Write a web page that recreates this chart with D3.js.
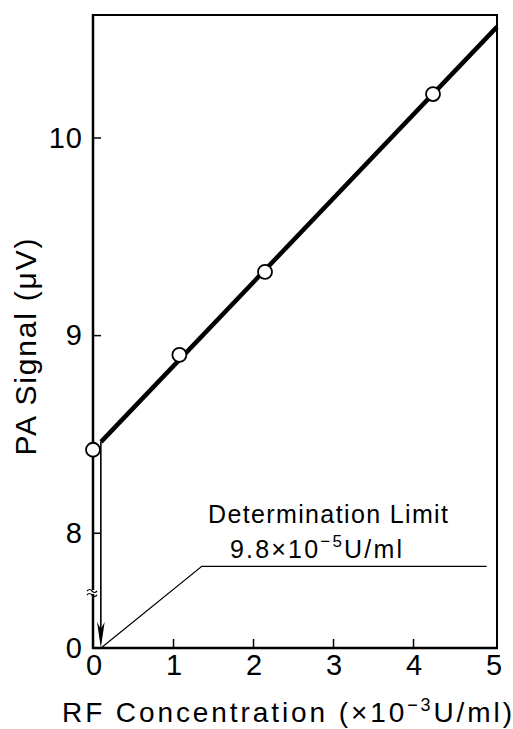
<!DOCTYPE html>
<html><head><meta charset="utf-8">
<script src="https://cdn.jsdelivr.net/npm/d3@7"></script>
<style>
  body { margin: 0; background: #fff; }
  svg { display: block; }
  text { font-family: "Liberation Sans", Arial, Helvetica, sans-serif; fill: #000; }
</style>
</head><body>
<svg id="chart" width="513" height="729"></svg>
<script>
// Measured photoacoustic signal vs. RF concentration (×10^-3 U/ml)
const concentration = [0, 1.08, 2.15, 4.25];
const signal = [8.42, 8.90, 9.32, 10.22];

// Calibration line, drawn from the determination limit to the right edge
const fitLine = [[0.1, 8.46], [5.05, 10.56]];
const detLimit = 0.098;                 // ×10^-3 U/ml
const leaderLine = [[0.1, 0], [1.36, 7.83], [4.92, 7.83]];

const xTicks = [0, 1, 2, 3, 4, 5];
const yTicks = [8, 9, 10];
const yBaseTick = [0];

const svg = d3.select("#chart");

// x: 0..5.05 ; y: broken axis, 0 at the bottom, 7.7..10.62 above the break
const x = d3.scaleLinear().domain([0, 5.05]).range([93, 497]);
const y = d3.scaleLinear().domain([0, 7.7, 10.62]).range([648, 592, 15]);

const X0 = x.range()[0], X1 = x.range()[1];
const Ybot = y(0), Ytop = y(10.62), Ybreak = y(7.7);

// frame: top and right edges
svg.append("path")
  .attr("d", `M${X0},${Ytop}H${X1}V${Ybot}`)
  .attr("fill", "none").attr("stroke", "#000").attr("stroke-width", 2);

// bottom axis
svg.append("line")
  .attr("x1", X0 - 1).attr("x2", X1 + 1).attr("y1", Ybot).attr("y2", Ybot)
  .attr("stroke", "#000").attr("stroke-width", 2.5);

// left axis
svg.append("line")
  .attr("x1", X0).attr("x2", X0).attr("y1", Ytop - 1).attr("y2", Ybot + 1)
  .attr("stroke", "#000").attr("stroke-width", 2.5);

// axis break marks
svg.append("rect").attr("x", X0 - 3).attr("y", Ybreak - 2).attr("width", 6).attr("height", 4).attr("fill", "#fff");
[-2, 2].forEach(dy => {
  const yy = Ybreak + dy;
  svg.append("path")
    .attr("d", `M${X0 - 6},${yy + 1} q2.5,-3 5,0 t5,0`)
    .attr("fill", "none").attr("stroke", "#000").attr("stroke-width", 1.2);
});

// y ticks (inward) and labels
const yAxis = d3.axisRight(y).tickValues(yTicks).tickSize(8).tickFormat("");
svg.append("g").attr("transform", `translate(${X0},0)`).call(yAxis)
  .call(g => g.select(".domain").remove())
  .call(g => g.selectAll("line").attr("stroke", "#000").attr("stroke-width", 1.5));

svg.selectAll(".ylab").data(yTicks.concat(yBaseTick)).join("text")
  .attr("class", "ylab")
  .attr("x", 83).attr("y", d => y(d) + 10)
  .attr("text-anchor", "end")
  .attr("font-size", 29).attr("letter-spacing", 1)
  .text(d => d);

// x ticks (inward, upward) and labels
const xAxis = d3.axisTop(x).tickValues(xTicks.filter(d => d > 0 && d < 5)).tickSize(9).tickFormat("");
svg.append("g").attr("transform", `translate(0,${Ybot})`).call(xAxis)
  .call(g => g.select(".domain").remove())
  .call(g => g.selectAll("line").attr("stroke", "#000").attr("stroke-width", 1.5));

svg.selectAll(".xlab").data(xTicks).join("text")
  .attr("class", "xlab")
  .attr("x", d => x(d) + 1).attr("y", 675)
  .attr("text-anchor", "middle")
  .attr("font-size", 29)
  .text(d => d);

// leader line from the arrow tip to the annotation
const line = d3.line().x(d => x(d[0])).y(d => y(d[1]));
svg.append("path").attr("d", line(leaderLine))
  .attr("fill", "none").attr("stroke", "#000").attr("stroke-width", 1.2);

// determination-limit arrow
const ax = x(detLimit);
svg.append("line")
  .attr("x1", ax).attr("x2", ax).attr("y1", y(fitLine[0][1])).attr("y2", Ybot - 10)
  .attr("stroke", "#000").attr("stroke-width", 1.6);
svg.append("path")
  .attr("d", `M${ax},${Ybot} L${ax - 3.8},${Ybot - 26} L${ax},${Ybot - 19} L${ax + 3.8},${Ybot - 26} Z`)
  .attr("fill", "#000");

// calibration line
svg.append("path").attr("d", line(fitLine))
  .attr("fill", "none").attr("stroke", "#000").attr("stroke-width", 4.5);

// measured points
svg.selectAll(".pt").data(concentration.map((c, i) => [c, signal[i]])).join("circle")
  .attr("class", "pt")
  .attr("cx", d => x(d[0])).attr("cy", d => y(d[1]))
  .attr("r", 7)
  .attr("fill", "#fff").attr("stroke", "#000").attr("stroke-width", 1.8);

// annotation
svg.append("text").attr("x", 208).attr("y", 523)
  .attr("font-size", 25).attr("textLength", 240).attr("lengthAdjust", "spacing")
  .text("Determination Limit");
const ann = svg.append("text").attr("x", 230).attr("y", 558)
  .attr("font-size", 25).attr("textLength", 172).attr("lengthAdjust", "spacing");
ann.append("tspan").text("9.8×10");
ann.append("tspan").attr("font-size", 17).attr("dy", -11).text("−5");
ann.append("tspan").attr("dy", 11).text("U/ml");

// axis titles
const xt = svg.append("text").attr("x", 62).attr("y", 722)
  .attr("font-size", 28).attr("textLength", 450).attr("lengthAdjust", "spacing");
xt.append("tspan").text("RF Concentration  (×10");
xt.append("tspan").attr("font-size", 18).attr("dy", -11).text("−3");
xt.append("tspan").attr("dy", 11).text("U/ml)");

svg.append("text")
  .attr("transform", "translate(36,347) rotate(-90)")
  .attr("text-anchor", "middle")
  .attr("font-size", 30).attr("textLength", 217).attr("lengthAdjust", "spacing")
  .text("PA Signal (μV)");
</script>
</body></html>
